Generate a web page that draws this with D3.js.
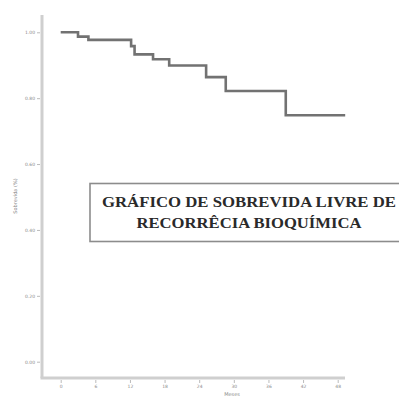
<!DOCTYPE html>
<html>
<head>
<meta charset="utf-8">
<script src="https://cdn.jsdelivr.net/npm/d3@7"></script>
<style>
  html, body { margin: 0; padding: 0; background: #fff; }
  svg { display: block; }
</style>
</head>
<body>
<div id="chart"></div>
<script>
// Kaplan-Meier step data (months, survival)
const times = [0, 3, 4.8, 12.2, 12.8, 16, 18.8, 25.2, 28.6, 39, 49.3];
const survival = [1, 0.987, 0.977, 0.958, 0.933, 0.918, 0.899, 0.864, 0.822, 0.748, 0.748];

const xTicks = [0, 6, 12, 18, 24, 30, 36, 42, 48];
const yTicks = [0, 0.2, 0.4, 0.6, 0.8, 1.0];

const titleLines = ['GRÁFICO DE SOBREVIDA LIVRE DE', 'RECORRÊCIA BIOQUÍMICA'];
const titleWidths = [294, 225];
const yLabel = 'Sobrevida (%)';
const xLabel = 'Meses';

const width = 399, height = 397;

const svg = d3.select('#chart')
  .append('svg')
  .attr('width', width)
  .attr('height', height);

// scales
const x = d3.scaleLinear().domain([0, 48]).range([60.7, 337.7]);
const y = d3.scaleLinear().domain([0, 1]).range([361.7, 32.3]);

const axisColor = '#cfcfcf';
const textColor = '#8a8a8a';

// axis lines
svg.append('line')
  .attr('x1', 42).attr('x2', 42)
  .attr('y1', 15).attr('y2', 378)
  .attr('stroke', axisColor).attr('stroke-width', 3);

svg.append('line')
  .attr('x1', 40.5).attr('x2', 345)
  .attr('y1', 378).attr('y2', 378)
  .attr('stroke', axisColor).attr('stroke-width', 3);

// y axis ticks
const yAxis = svg.append('g')
  .attr('transform', 'translate(40,0)')
  .call(d3.axisLeft(y).tickValues(yTicks).tickFormat(d3.format('.2f')).tickSize(3).tickPadding(2));
yAxis.select('.domain').remove();
yAxis.selectAll('line').attr('stroke', '#bbb');
yAxis.selectAll('text')
  .attr('fill', textColor)
  .style('font-family', 'DejaVu Sans')
  .style('font-size', '4.5px');

// x axis ticks
const xAxis = svg.append('g')
  .attr('transform', 'translate(0,380)')
  .call(d3.axisBottom(x).tickValues(xTicks).tickSize(3).tickPadding(1.5));
xAxis.select('.domain').remove();
xAxis.selectAll('line').attr('stroke', '#bbb');
xAxis.selectAll('text')
  .attr('fill', textColor)
  .style('font-family', 'DejaVu Sans')
  .style('font-size', '4.5px');

// axis labels
svg.append('text')
  .attr('transform', 'translate(17,196) rotate(-90)')
  .attr('text-anchor', 'middle')
  .attr('fill', textColor)
  .style('font-family', 'DejaVu Sans')
  .style('font-size', '5px')
  .text(yLabel);

svg.append('text')
  .attr('x', 232).attr('y', 395.5)
  .attr('text-anchor', 'middle')
  .attr('fill', textColor)
  .style('font-family', 'DejaVu Sans')
  .style('font-size', '5px')
  .text(xLabel);

// survival curve
const line = d3.line()
  .x((d, i) => x(times[i]))
  .y(d => y(d))
  .curve(d3.curveStepAfter);

svg.append('path')
  .datum(survival)
  .attr('d', line)
  .attr('fill', 'none')
  .attr('stroke', '#727272')
  .attr('stroke-width', 2.6);

// title box
svg.append('rect')
  .attr('x', 90).attr('y', 183.5)
  .attr('width', 330).attr('height', 58)
  .attr('fill', '#fff')
  .attr('stroke', '#8c8c8c')
  .attr('stroke-width', 1.6);

svg.selectAll('text.title')
  .data(titleLines)
  .join('text')
  .attr('class', 'title')
  .attr('x', 249)
  .attr('y', (d, i) => 206.5 + i * 21.5)
  .attr('text-anchor', 'middle')
  .attr('textLength', (d, i) => titleWidths[i])
  .attr('lengthAdjust', 'spacingAndGlyphs')
  .attr('fill', '#2a2a2a')
  .style('font-family', 'Liberation Serif')
  .style('font-weight', 'bold')
  .style('font-size', '15px')
  .text(d => d);
</script>
</body>
</html>
